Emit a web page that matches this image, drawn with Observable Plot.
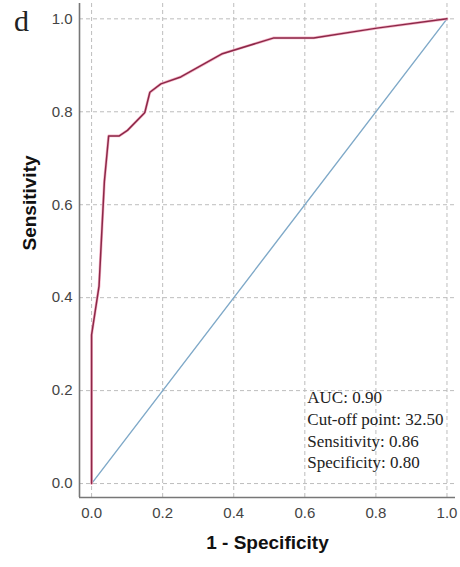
<!DOCTYPE html>
<html>
<head>
<meta charset="utf-8">
<script src="https://cdn.jsdelivr.net/npm/d3@7"></script>
<script src="https://cdn.jsdelivr.net/npm/@observablehq/plot@0.6"></script>
<style>
  html, body { margin: 0; padding: 0; background: #fff; }
  #wrap { position: relative; width: 460px; height: 567px; }
  #panel { position: absolute; left: 14px; top: 4px; font-family: "Liberation Serif", "DejaVu Serif", serif; font-size: 30px; color: #222; }
</style>
</head>
<body>
<div id="wrap">
  <div id="chart"></div>
  <div id="panel">d</div>
</div>
<script>
// ROC curve (1 - specificity, sensitivity)
const fpr = [0, 0, 0.021, 0.036, 0.048, 0.078, 0.101, 0.148, 0.150, 0.164, 0.195, 0.251, 0.368, 0.513, 0.625, 0.803, 1];
const tpr = [0, 0.32, 0.425, 0.65, 0.748, 0.748, 0.76, 0.797, 0.799, 0.842, 0.86, 0.875, 0.925, 0.959, 0.959, 0.98, 1];
// Reference diagonal
const diagX = [0, 1];
const diagY = [0, 1];
const ticks = [0, 0.2, 0.4, 0.6, 0.8, 1.0];
const xDomain = [-0.034, 1.024];
const yDomain = [-0.030, 1.033];
const xLabel = "1 - Specificity";
const yLabel = "Sensitivity";
const stats = ["AUC: 0.90", "Cut-off point: 32.50", "Sensitivity: 0.86", "Specificity: 0.80"];
const statsPos = {x: 0.607, y: 0.118};

const roc = fpr.map((x, i) => ({x, y: tpr[i]}));
const diag = diagX.map((x, i) => ({x, y: diagY[i]}));

const chart = Plot.plot({
  width: 460,
  height: 567,
  marginLeft: 79,
  marginRight: 5,
  marginTop: 3,
  marginBottom: 70,
  style: {fontFamily: "Liberation Sans, Arial, sans-serif", background: "white"},
  x: {domain: xDomain},
  y: {domain: yDomain},
  marks: [
    Plot.gridX(ticks, {stroke: "#bdbdbd", strokeOpacity: 1, strokeDasharray: "4,3", strokeWidth: 1}),
    Plot.gridY(ticks, {stroke: "#bdbdbd", strokeOpacity: 1, strokeDasharray: "4,3", strokeWidth: 1}),
    Plot.axisX(ticks, {tickSize: 0, tickPadding: 10, fontSize: 15, fill: "#444", label: null, tickFormat: d3.format(".1f")}),
    Plot.axisY(ticks, {tickSize: 0, tickPadding: 7, fontSize: 15, fill: "#444", label: null, tickFormat: d3.format(".1f")}),
    Plot.ruleY([yDomain[0]], {stroke: "#777", strokeWidth: 1.6}),
    Plot.ruleX([xDomain[0]], {stroke: "#777", strokeWidth: 1.6}),
    Plot.line(diag, {x: "x", y: "y", stroke: "#7fa9c8", strokeWidth: 1.4}),
    Plot.line(roc, {x: "x", y: "y", stroke: "#f5b5c8", strokeWidth: 2.8, strokeLinejoin: "round"}),
    Plot.line(roc, {x: "x", y: "y", stroke: "#8c2848", strokeWidth: 1.5, strokeLinejoin: "round"}),
    Plot.text([stats.join("\n")], {x: statsPos.x, y: statsPos.y, textAnchor: "start", lineAnchor: "middle", lineHeight: 1.28, fontSize: 17, fontFamily: "Liberation Serif, Times New Roman, serif", fill: "#222"}),
    Plot.text([xLabel], {frameAnchor: "bottom", dy: 51, fontSize: 19, fontWeight: "bold", fill: "#111"}),
    Plot.text([yLabel], {frameAnchor: "left", dx: -50, rotate: -90, fontSize: 19, fontWeight: "bold", fill: "#111"})
  ]
});
document.getElementById("chart").append(chart);
</script>
</body>
</html>
